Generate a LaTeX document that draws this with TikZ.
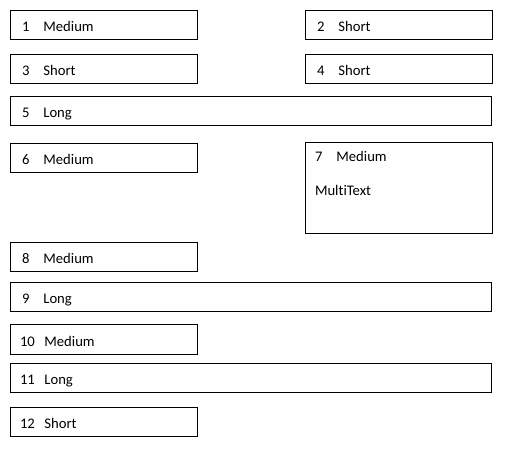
\documentclass[tikz,border=0pt]{standalone}
\usepackage{fontspec}
\setmainfont{Carlito}[Ligatures=CommonOff]
\usetikzlibrary{positioning}
\tikzset{
    field/.style={
           rectangle,
           draw=black, line width=0.75pt,
           minimum height=21.75pt,
           text height=15.75pt,
           text depth=6pt,
           inner xsep=9pt,
           inner ysep=0pt,
           outer sep=0pt,
           align=left,
           font=\fontsize{11pt}{13pt}\selectfont,
           },
    fshort/.style={field, text width=122.25pt},
    flong/.style={field, text width=342.75pt},
}
\newcommand{\entry}[2]{\ifnum#1>9\hspace{-1.5pt}#1\hspace{0.65em}\else#1\hspace{0.95em}\fi#2}

\begin{document}
\begin{tikzpicture}[x=0.75pt,y=-0.75pt]
  \useasboundingbox (0,0) rectangle (510,459);
  \node[fshort, anchor=north west] (f1) at (10,11) {\entry{1}{Medium}};
  \node[fshort, right=81pt of f1] (f2) {\entry{2}{Short}};
  \node[fshort, below=11.25pt of f1] (f3) {\entry{3}{Short}};
  \node[fshort, right=81pt of f3] (f4) {\entry{4}{Short}};
  \node[flong, below=9.75pt of f3.south west, anchor=north west] (f5) {\entry{5}{Long}};
  \node[fshort, below=13.5pt of f5.south west, anchor=north west] (f6) {\entry{6}{Medium}};
  \node[fshort,
 right=81pt of f6.north east,
 anchor=north west,
 yshift=0.75pt,
 inner xsep=7.5pt,
 text width=125.25pt,
 text height=14.25pt,
 text depth=54pt] (f7)
 {%
  \entry{7}{Medium}\\[12.5pt]
  MultiText
 };
  \node[fshort, below=52.5pt of f6] (f8) {\entry{8}{Medium}};
  \node[flong, below=8.25pt of f8.south west, anchor=north west] (f9) {\entry{9}{Long}};
  \node[fshort, below=9.75pt of f9.south west, anchor=north west] (f10) {\entry{10}{Medium}};
  \node[flong, below=6.75pt of f10.south west, anchor=north west] (f11) {\entry{11}{Long}};
  \node[fshort, below=11.25pt of f11.south west, anchor=north west] (f12) {\entry{12}{Short}};
\end{tikzpicture}
\end{document}
